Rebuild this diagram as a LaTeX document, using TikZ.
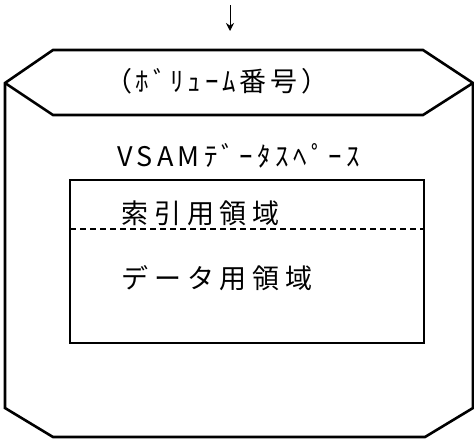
\documentclass[tikz,border=0pt]{standalone}
\usepackage{fontspec}
\setmainfont{Noto Sans CJK JP}
\usetikzlibrary{arrows.meta}
\tikzset{
  frame/.style={line width=2.6pt, line join=miter},
  inner/.style={line width=1.6pt},
  divider/.style={line width=1.2pt, dash pattern=on 6pt off 4pt},
  lbl/.style={anchor=west, inner sep=0pt, font=\fontsize{27}{29}\selectfont},
  flow/.style={line width=1pt, -{Stealth[length=8pt,width=8pt]}}
}
\begin{document}
\begin{tikzpicture}[x=1pt,y=-1pt]
\useasboundingbox (0,0) rectangle (474,439);
% incoming arrow
\coordinate (in1) at (230,5);
\coordinate (in2) at (230,31);
\draw[flow] (in1) -- (in2);
% outer volume shape
\draw[frame] (5,83) -- (53,50) -- (423,50) -- (473,83) -- (473,408) -- (425,437) -- (53,437) -- (5,408) -- cycle;
\draw[frame] (5,83) -- (53,115) -- (423,115) -- (473,83);
% inner data space
\draw[inner] (70,180) rectangle (424,343);
\draw[divider] (70,229) -- (424,229);
% labels
\node[lbl] (vol) at (105,81) {\addfontfeature{LetterSpace=14}（ﾎﾞﾘｭｰﾑ番号）};
\node[lbl] (vsam) at (117,156) {\addfontfeature{LetterSpace=16}VSAMﾃﾞｰﾀｽﾍﾟｰｽ};
\node[lbl] (idx) at (121,213) {\addfontfeature{LetterSpace=22}索引用領域};
\node[lbl] (dat) at (121,278) {\addfontfeature{LetterSpace=22}データ用領域};
\end{tikzpicture}
\end{document}
